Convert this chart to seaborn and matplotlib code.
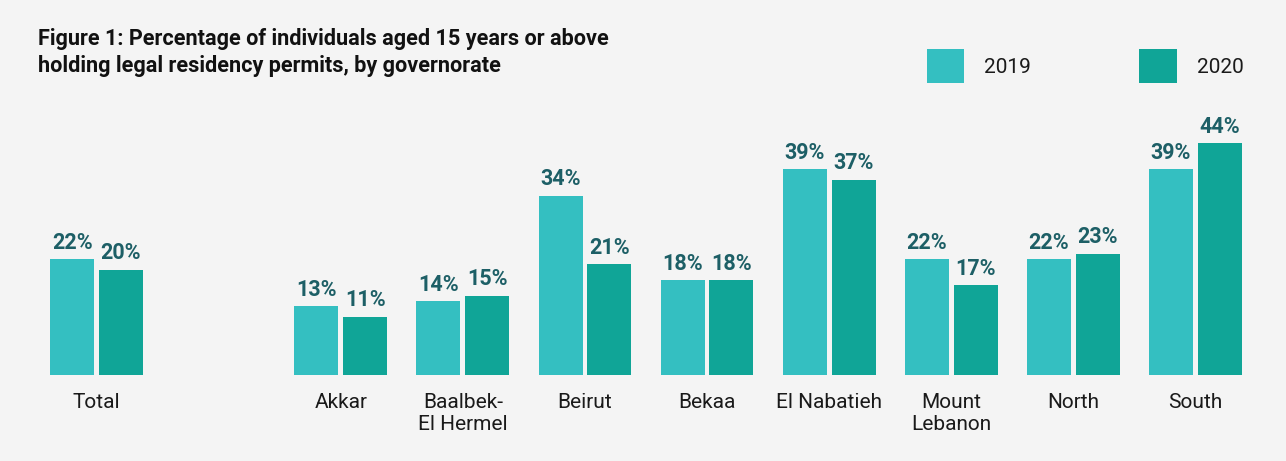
import matplotlib
matplotlib.use("Agg")
import matplotlib.pyplot as plt
import matplotlib.patches as mpatches
import seaborn as sns
import pandas as pd

categories = ["Total", "Akkar", "Baalbek-\nEl Hermel", "Beirut", "Bekaa",
              "El Nabatieh", "Mount\nLebanon", "North", "South"]
values_2019 = [22, 13, 14, 34, 18, 39, 22, 22, 39]
values_2020 = [20, 11, 15, 21, 18, 37, 17, 23, 44]
years = ["2019", "2020"]
spacer = " "
order = [categories[0], spacer] + categories[1:]

colors = {"2019": "#34bfc1", "2020": "#10a597"}
label_color = "#1d5f66"
bg = "#f4f4f4"

df = pd.DataFrame({
    "category": categories * 2,
    "year": [years[0]] * len(categories) + [years[1]] * len(categories),
    "value": values_2019 + values_2020,
})

sns.set_theme(style="white")
plt.rcParams["font.family"] = ["Roboto", "DejaVu Sans"]

fig = plt.figure(figsize=(12.86, 4.61), dpi=100, facecolor=bg)
ax = fig.add_axes([35.5 / 1286, 86 / 461, 1221 / 1286, 263.5 / 461])
ax.set_facecolor(bg)

sns.barplot(data=df, x="category", y="value", hue="year", order=order,
            hue_order=years, palette=colors, width=0.8, gap=0.1,
            saturation=1, linewidth=0, ax=ax, legend=False)

for cont in ax.containers:
    ax.bar_label(cont, labels=[f"{v:.0f}%" for v in cont.datavalues],
                 padding=4, fontsize=15.5, fontweight="bold", color=label_color)

ax.set_ylim(0, 50)
ax.set_xlim(-0.5, len(order) - 0.5)
ax.set_xlabel("")
ax.set_ylabel("")
ax.set_yticks([])
ax.tick_params(axis="x", length=0, pad=13, labelsize=15, labelcolor="#1a1a1a")
for s in ax.spines.values():
    s.set_visible(False)

fig.text(38 / 1286, 1 - 28 / 461,
         "Figure 1: Percentage of individuals aged 15 years or above\nholding legal residency permits, by governorate",
         ha="left", va="top", fontsize=15.6, fontweight="bold", color="#111111",
         linespacing=1.3)

handles = [mpatches.Patch(color=colors[y], label=y, linewidth=0) for y in years]
fig.legend(handles=handles, loc="center right",
           bbox_to_anchor=(1262 / 1286, 1 - 66 / 461), ncol=2, frameon=False,
           fontsize=15, handlelength=1.78, handleheight=2.2,
           handletextpad=0.96, columnspacing=5.2, labelcolor="#1a1a1a")

fig.savefig("out.png", dpi=100, facecolor=bg)
